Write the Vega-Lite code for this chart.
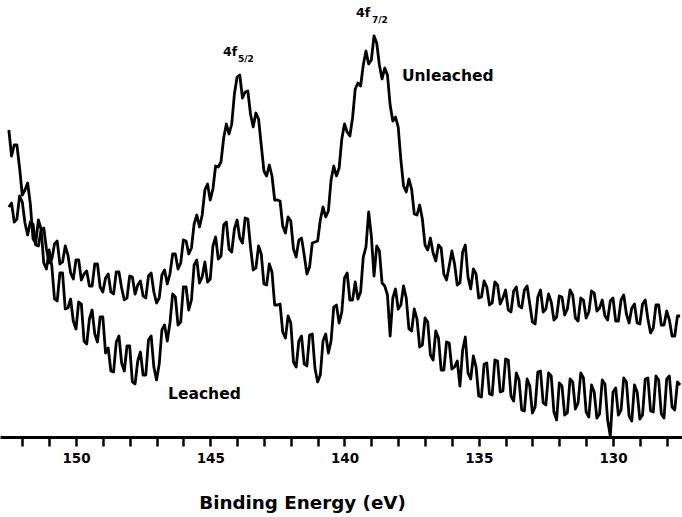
{
  "$schema": "https://vega.github.io/schema/vega-lite/v6.json",
  "width": 682,
  "height": 437,
  "autosize": {"type": "none"},
  "padding": {"left": 0, "top": 0, "right": 0, "bottom": 80},
  "background": "white",
  "config": {"view": {"stroke": null}},
  "resolve": {"axis": {"x": "independent"}},
  "datasets": {
    "spec": [
      {"E":152.5,"Unleached":230,"Leached":307},{"E":152.3,"Unleached":215,"Leached":292},{"E":152.1,"Unleached":241,"Leached":269},{"E":151.9,"Unleached":214,"Leached":247},{"E":151.7,"Unleached":215,"Leached":233},{"E":151.5,"Unleached":192,"Leached":194},{"E":151.3,"Unleached":207,"Leached":208},{"E":151.1,"Unleached":188,"Leached":168},{"E":150.9,"Unleached":178,"Leached":171},{"E":150.7,"Unleached":196,"Leached":136},
      {"E":150.5,"Unleached":175,"Leached":164},{"E":150.3,"Unleached":182,"Leached":129},{"E":150.1,"Unleached":158,"Leached":116},{"E":149.9,"Unleached":177,"Leached":135},{"E":149.7,"Unleached":163,"Leached":96},{"E":149.5,"Unleached":151,"Leached":118},{"E":149.3,"Unleached":173,"Leached":103},{"E":149.1,"Unleached":150,"Leached":120},{"E":148.9,"Unleached":159,"Leached":84},{"E":148.7,"Unleached":145,"Leached":66},
      {"E":148.5,"Unleached":165,"Leached":95},{"E":148.3,"Unleached":149,"Leached":74},{"E":148.1,"Unleached":139,"Leached":91},{"E":147.9,"Unleached":160,"Leached":55},{"E":147.7,"Unleached":152,"Leached":76},{"E":147.5,"Unleached":141,"Leached":62},{"E":147.3,"Unleached":161,"Leached":97},{"E":147.1,"Unleached":145,"Leached":70},{"E":146.9,"Unleached":139,"Leached":73},{"E":146.7,"Unleached":167,"Leached":112},
      {"E":146.5,"Unleached":163,"Leached":114},{"E":146.3,"Unleached":183,"Leached":140},{"E":146.1,"Unleached":174,"Leached":115},{"E":145.9,"Unleached":196,"Leached":150},{"E":145.7,"Unleached":189,"Leached":137},{"E":145.5,"Unleached":222,"Leached":177},{"E":145.3,"Unleached":222,"Leached":160},{"E":145.1,"Unleached":253,"Leached":155},{"E":144.9,"Unleached":248,"Leached":191},{"E":144.7,"Unleached":270,"Leached":178},
      {"E":144.5,"Unleached":299,"Leached":212},{"E":144.3,"Unleached":303,"Leached":188},{"E":144.1,"Unleached":343,"Leached":208},{"E":143.9,"Unleached":362,"Leached":199},{"E":143.7,"Unleached":345,"Leached":219},{"E":143.5,"Unleached":323,"Leached":190},{"E":143.3,"Unleached":324,"Leached":169},{"E":143.1,"Unleached":292,"Leached":183},{"E":142.9,"Unleached":261,"Leached":152},{"E":142.7,"Unleached":261,"Leached":165},
      {"E":142.5,"Unleached":237,"Leached":132},{"E":142.3,"Unleached":211,"Leached":105},{"E":142.1,"Unleached":220,"Leached":121},{"E":141.9,"Unleached":188,"Leached":75},{"E":141.7,"Unleached":197,"Leached":96},{"E":141.5,"Unleached":182,"Leached":73},{"E":141.3,"Unleached":170,"Leached":102},{"E":141.1,"Unleached":195,"Leached":69},{"E":140.9,"Unleached":217,"Leached":62},{"E":140.7,"Unleached":220,"Leached":103},
      {"E":140.5,"Unleached":257,"Leached":96},{"E":140.3,"Unleached":261,"Leached":132},{"E":140.1,"Unleached":298,"Leached":125},{"E":139.9,"Unleached":305,"Leached":164},{"E":139.7,"Unleached":319,"Leached":137},{"E":139.5,"Unleached":354,"Leached":138},{"E":139.3,"Unleached":372,"Leached":180},{"E":139.1,"Unleached":373,"Leached":225},{"E":138.9,"Unleached":401,"Leached":161},{"E":138.7,"Unleached":372,"Leached":186},
      {"E":138.5,"Unleached":369,"Leached":151},{"E":138.3,"Unleached":332,"Leached":101},{"E":138.1,"Unleached":320,"Leached":148},{"E":137.9,"Unleached":277,"Leached":132},{"E":137.7,"Unleached":245,"Leached":139},{"E":137.5,"Unleached":248,"Leached":106},{"E":137.3,"Unleached":222,"Leached":118},{"E":137.1,"Unleached":218,"Leached":92},{"E":136.9,"Unleached":187,"Leached":115},{"E":136.7,"Unleached":184,"Leached":77},
      {"E":136.5,"Unleached":192,"Leached":99},{"E":136.3,"Unleached":163,"Leached":67},{"E":136.1,"Unleached":171,"Leached":94},{"E":135.9,"Unleached":173,"Leached":70},{"E":135.7,"Unleached":154,"Leached":51},{"E":135.5,"Unleached":192,"Leached":100},{"E":135.3,"Unleached":148,"Leached":58},{"E":135.1,"Unleached":163,"Leached":70},{"E":134.9,"Unleached":140,"Leached":40},{"E":134.7,"Unleached":150,"Leached":74},
      {"E":134.5,"Unleached":134,"Leached":42},{"E":134.3,"Unleached":152,"Leached":76},{"E":134.1,"Unleached":139,"Leached":46},{"E":133.9,"Unleached":127,"Leached":77},{"E":133.7,"Unleached":146,"Leached":36},{"E":133.5,"Unleached":131,"Leached":57},{"E":133.3,"Unleached":147,"Leached":26},{"E":133.1,"Unleached":133,"Leached":51},{"E":132.9,"Unleached":113,"Leached":30},{"E":132.7,"Unleached":147,"Leached":66},
      {"E":132.5,"Unleached":128,"Leached":32},{"E":132.3,"Unleached":135,"Leached":61},{"E":132.1,"Unleached":120,"Leached":17},{"E":131.9,"Unleached":140,"Leached":51},{"E":131.7,"Unleached":128,"Leached":24},{"E":131.5,"Unleached":142,"Leached":55},{"E":131.3,"Unleached":116,"Leached":34},{"E":131.1,"Unleached":137,"Leached":59},{"E":130.9,"Unleached":125,"Leached":20},{"E":130.7,"Unleached":144,"Leached":45},
      {"E":130.5,"Unleached":129,"Leached":23},{"E":130.3,"Unleached":121,"Leached":53},{"E":130.1,"Unleached":136,"Leached":1},{"E":129.9,"Unleached":116,"Leached":49},{"E":129.7,"Unleached":137,"Leached":27},{"E":129.5,"Unleached":123,"Leached":55},{"E":129.3,"Unleached":129,"Leached":16},{"E":129.1,"Unleached":114,"Leached":45},{"E":128.9,"Unleached":133,"Leached":22},{"E":128.7,"Unleached":118,"Leached":59},
      {"E":128.5,"Unleached":109,"Leached":25},{"E":128.3,"Unleached":132,"Leached":57},{"E":128.1,"Unleached":112,"Leached":19},{"E":127.9,"Unleached":117,"Leached":61},{"E":127.7,"Unleached":101,"Leached":27},{"E":127.5,"Unleached":121,"Leached":52},
      {"E":152.4,"Unleached":234,"Leached":281},{"E":152.2,"Unleached":218,"Leached":292},{"E":152.0,"Unleached":235,"Leached":242},{"E":151.8,"Unleached":202,"Leached":254},{"E":151.6,"Unleached":213,"Leached":198},{"E":151.4,"Unleached":191,"Leached":217},{"E":151.2,"Unleached":209,"Leached":174},{"E":151.0,"Unleached":174,"Leached":187},{"E":150.8,"Unleached":193,"Leached":138},{"E":150.6,"Unleached":173,"Leached":164},
      {"E":150.4,"Unleached":191,"Leached":128},{"E":150.2,"Unleached":164,"Leached":138},{"E":150.0,"Unleached":177,"Leached":108},{"E":149.8,"Unleached":157,"Leached":133},{"E":149.6,"Unleached":166,"Leached":93},{"E":149.4,"Unleached":151,"Leached":127},{"E":149.2,"Unleached":173,"Leached":95},{"E":149.0,"Unleached":145,"Leached":120},{"E":148.8,"Unleached":163,"Leached":89},{"E":148.6,"Unleached":143,"Leached":65},
      {"E":148.4,"Unleached":165,"Leached":101},{"E":148.2,"Unleached":137,"Leached":66},{"E":148.0,"Unleached":161,"Leached":91},{"E":147.8,"Unleached":143,"Leached":53},{"E":147.6,"Unleached":156,"Leached":85},{"E":147.4,"Unleached":139,"Leached":62},{"E":147.2,"Unleached":164,"Leached":101},{"E":147.0,"Unleached":134,"Leached":57},{"E":146.8,"Unleached":162,"Leached":107},{"E":146.6,"Unleached":153,"Leached":96},
      {"E":146.4,"Unleached":183,"Leached":143},{"E":146.2,"Unleached":168,"Leached":112},{"E":146.0,"Unleached":197,"Leached":150},{"E":145.8,"Unleached":183,"Leached":127},{"E":145.6,"Unleached":213,"Leached":172},{"E":145.4,"Unleached":210,"Leached":154},{"E":145.2,"Unleached":247,"Leached":175},{"E":145.0,"Unleached":237,"Leached":158},{"E":144.8,"Unleached":271,"Leached":200},{"E":144.6,"Unleached":275,"Leached":181},
      {"E":144.4,"Unleached":313,"Leached":215},{"E":144.2,"Unleached":313,"Leached":185},{"E":144.0,"Unleached":360,"Leached":217},{"E":143.8,"Unleached":339,"Leached":194},{"E":143.6,"Unleached":346,"Leached":218},{"E":143.4,"Unleached":310,"Leached":167},{"E":143.2,"Unleached":318,"Leached":191},{"E":143.0,"Unleached":266,"Leached":153},{"E":142.8,"Unleached":272,"Leached":173},{"E":142.6,"Unleached":237,"Leached":132},
      {"E":142.4,"Unleached":236,"Leached":133},{"E":142.2,"Unleached":204,"Leached":99},{"E":142.0,"Unleached":216,"Leached":114},{"E":141.8,"Unleached":180,"Leached":70},{"E":141.6,"Unleached":199,"Leached":101},{"E":141.4,"Unleached":163,"Leached":71},{"E":141.2,"Unleached":194,"Leached":103},{"E":141.0,"Unleached":196,"Leached":55},{"E":140.8,"Unleached":230,"Leached":96},{"E":140.6,"Unleached":226,"Leached":84},
      {"E":140.4,"Unleached":271,"Leached":130},{"E":140.2,"Unleached":269,"Leached":114},{"E":140.0,"Unleached":313,"Leached":159},{"E":139.8,"Unleached":301,"Leached":137},{"E":139.6,"Unleached":348,"Leached":155},{"E":139.4,"Unleached":351,"Leached":145},{"E":139.2,"Unleached":386,"Leached":190},{"E":139.0,"Unleached":377,"Leached":201},{"E":138.8,"Unleached":394,"Leached":191},{"E":138.6,"Unleached":358,"Leached":154},
      {"E":138.4,"Unleached":362,"Leached":142},{"E":138.2,"Unleached":316,"Leached":139},{"E":138.0,"Unleached":310,"Leached":128},{"E":137.8,"Unleached":251,"Leached":151},{"E":137.6,"Unleached":258,"Leached":108},{"E":137.4,"Unleached":223,"Leached":128},{"E":137.2,"Unleached":232,"Leached":90},{"E":137.0,"Unleached":192,"Leached":119},{"E":136.8,"Unleached":199,"Leached":82},{"E":136.6,"Unleached":176,"Leached":106},
      {"E":136.4,"Unleached":189,"Leached":67},{"E":136.2,"Unleached":157,"Leached":95},{"E":136.0,"Unleached":186,"Leached":68},{"E":135.8,"Unleached":152,"Leached":76},{"E":135.6,"Unleached":185,"Leached":87},{"E":135.4,"Unleached":160,"Leached":64},{"E":135.2,"Unleached":168,"Leached":81},{"E":135.0,"Unleached":139,"Leached":41},{"E":134.8,"Unleached":156,"Leached":73},{"E":134.6,"Unleached":132,"Leached":43},
      {"E":134.4,"Unleached":155,"Leached":77},{"E":134.2,"Unleached":133,"Leached":45},{"E":134.0,"Unleached":147,"Leached":78},{"E":133.8,"Unleached":125,"Leached":41},{"E":133.6,"Unleached":150,"Leached":64},{"E":133.4,"Unleached":129,"Leached":27},{"E":133.2,"Unleached":151,"Leached":58},{"E":133.0,"Unleached":115,"Leached":24},{"E":132.8,"Unleached":140,"Leached":65},{"E":132.6,"Unleached":125,"Leached":34},
      {"E":132.4,"Unleached":143,"Leached":64},{"E":132.2,"Unleached":117,"Leached":25},{"E":132.0,"Unleached":141,"Leached":54},{"E":131.8,"Unleached":122,"Leached":22},{"E":131.6,"Unleached":147,"Leached":58},{"E":131.4,"Unleached":119,"Leached":28},{"E":131.2,"Unleached":139,"Leached":64},{"E":131.0,"Unleached":119,"Leached":25},{"E":130.8,"Unleached":146,"Leached":52},{"E":130.6,"Unleached":126,"Leached":19},
      {"E":130.4,"Unleached":137,"Leached":57},{"E":130.2,"Unleached":117,"Leached":17},{"E":130.0,"Unleached":139,"Leached":45},{"E":129.8,"Unleached":116,"Leached":22},{"E":129.6,"Unleached":142,"Leached":59},{"E":129.4,"Unleached":114,"Leached":21},{"E":129.2,"Unleached":133,"Leached":52},{"E":129.0,"Unleached":113,"Leached":18},{"E":128.8,"Unleached":137,"Leached":58},{"E":128.6,"Unleached":104,"Leached":26},
      {"E":128.4,"Unleached":132,"Leached":61},{"E":128.2,"Unleached":112,"Leached":23},{"E":128.0,"Unleached":126,"Leached":58},{"E":127.8,"Unleached":101,"Leached":30},{"E":127.6,"Unleached":121,"Leached":55}
    ],
    "labels": [
      {"E":144.26,"I":381,"text":"4f","kind":"term"},
      {"E":143.67,"I":375,"text":"5/2","kind":"sub"},
      {"E":139.31,"I":420,"text":"4f","kind":"term"},
      {"E":138.68,"I":414,"text":"7/2","kind":"sub"},
      {"E":137.86,"I":356,"text":"Unleached","kind":"name"},
      {"E":146.57,"I":38,"text":"Leached","kind":"name"}
    ]
  },
  "layer": [
    {
      "data": {"name": "spec"},
      "transform": [{"fold": ["Unleached", "Leached"], "as": ["sample", "I"]}],
      "mark": {"type": "line", "color": "black", "strokeWidth": 2.8, "strokeJoin": "round"},
      "encoding": {
        "x": {
          "field": "E", "type": "quantitative",
          "scale": {"domain": [127.43, 152.83], "reverse": true, "nice": false, "zero": false},
          "axis": {
            "orient": "bottom",
            "values": [130, 135, 140, 145, 150],
            "grid": false,
            "domainColor": "black", "domainWidth": 3,
            "tickColor": "black", "tickWidth": 2.5, "tickSize": 9,
            "labelFont": "DejaVu Sans", "labelFontWeight": "bold", "labelFontSize": 13.5, "labelColor": "black",
            "labelBaseline": "alphabetic", "labelPadding": 16, "labelOverlap": false, "labelFlush": false,
            "title": "Binding Energy (eV)",
            "titleFont": "DejaVu Sans", "titleFontWeight": "bold", "titleFontSize": 18.3, "titleColor": "black",
            "titleBaseline": "alphabetic", "titleX": 302, "titleY": 71
          }
        },
        "y": {
          "field": "I", "type": "quantitative",
          "scale": {"domain": [0, 437], "nice": false, "zero": false},
          "axis": null
        },
        "detail": {"field": "sample", "type": "nominal"}
      }
    },
    {
      "data": {"name": "labels"},
      "transform": [{"filter": "datum.kind === 'name'"}],
      "mark": {"type": "text", "font": "DejaVu Sans", "fontWeight": "bold", "fontSize": 15.5, "color": "black", "align": "left", "baseline": "alphabetic"},
      "encoding": {
        "x": {
          "field": "E", "type": "quantitative",
          "axis": {
            "orient": "bottom",
            "values": [128,129,131,132,133,134,136,137,138,139,141,142,143,144,146,147,148,149,151,152],
            "labels": false, "domain": false, "grid": false, "title": null,
            "tickColor": "black", "tickWidth": 2.5, "tickSize": 9
          }
        },
        "y": {"field": "I", "type": "quantitative"},
        "text": {"field": "text"}
      }
    },
    {
      "data": {"name": "labels"},
      "transform": [{"filter": "datum.kind === 'term'"}],
      "mark": {"type": "text", "font": "DejaVu Sans", "fontWeight": "bold", "fontSize": 12.5, "color": "black", "align": "center", "baseline": "alphabetic"},
      "encoding": {
        "x": {"field": "E", "type": "quantitative", "axis": null},
        "y": {"field": "I", "type": "quantitative"},
        "text": {"field": "text"}
      }
    },
    {
      "data": {"name": "labels"},
      "transform": [{"filter": "datum.kind === 'sub'"}],
      "mark": {"type": "text", "font": "DejaVu Sans", "fontWeight": "bold", "fontSize": 9, "color": "black", "align": "center", "baseline": "alphabetic"},
      "encoding": {
        "x": {"field": "E", "type": "quantitative", "axis": null},
        "y": {"field": "I", "type": "quantitative"},
        "text": {"field": "text"}
      }
    }
  ]
}
